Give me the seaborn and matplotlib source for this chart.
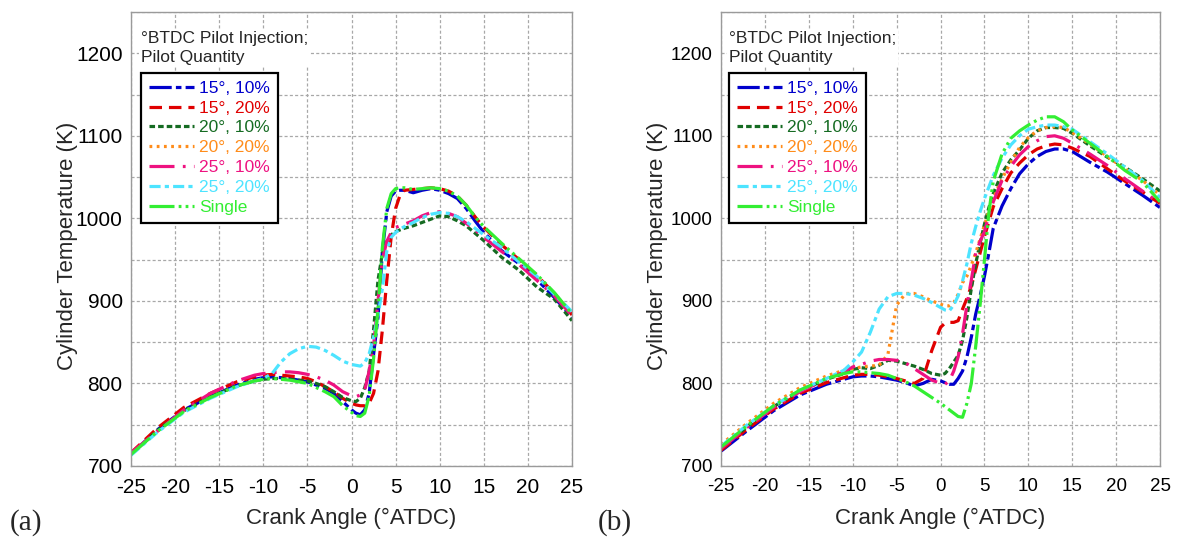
import matplotlib
matplotlib.use("Agg")
import matplotlib.pyplot as plt
from matplotlib.lines import Line2D
from matplotlib.ticker import MultipleLocator
import seaborn as sns
import pandas as pd

# ---------------- data ----------------
X = [-25, -22, -19, -16, -13, -11, -10, -9, -8, -7, -6, -5, -4, -3, -2, -1,
     0, 0.5, 1, 1.5, 2, 2.5, 3, 3.5, 4, 4.5, 5, 5.5, 6,
     7, 8, 9, 10, 11, 12, 13, 14, 15,
     17, 19, 21, 23, 25]

SERIES = ["15°, 10%", "15°, 20%", "20°, 10%", "20°, 20%", "25°, 10%", "25°, 20%", "Single"]

# panel (a)
A_15_10 = [714, 744, 768, 784, 798, 805, 807, 808, 807, 806, 804, 802, 798, 794, 788, 778,
           768, 764, 762, 768, 788, 835, 880, 960, 1008, 1027, 1033, 1034, 1034,
           1031, 1034, 1036, 1034, 1030, 1024, 1012, 997, 983,
           961, 945, 926, 904, 880]
A_15_20 = [716, 746, 771, 788, 802, 808, 810, 811, 810, 809, 808, 806, 802, 796, 790, 782,
           776, 774, 773, 773, 776, 788, 815, 865, 925, 978, 1012, 1028, 1034,
           1035, 1036, 1037, 1036, 1033, 1027, 1016, 1002, 989,
           968, 950, 931, 909, 883]
A_20_10 = [714, 743, 767, 784, 797, 803, 805, 806, 806, 805, 804, 803, 800, 796, 790, 783,
           779, 778, 782, 795, 815, 865, 925, 958, 972, 980, 984, 986, 988,
           991, 995, 999, 1003, 1002, 997, 991, 982, 973,
           953, 937, 917, 902, 876]
A_20_20 = None  # not visible in panel (a)
A_25_10 = [716, 742, 768, 788, 803, 810, 812, 813, 814, 814, 813, 811, 808, 804, 798, 790,
           785, 784, 786, 792, 815, 845, 900, 950, 972, 983, 989, 991, 993,
           997, 1003, 1007, 1008, 1006, 1002, 994, 986, 977,
           960, 944, 925, 906, 882]
A_25_20 = [713, 741, 765, 782, 796, 803, 806, 812, 826, 836, 842, 845, 844, 840, 834, 827,
           823, 822, 821, 825, 836, 856, 882, 915, 960, 977, 983, 987, 990,
           995, 1001, 1005, 1007, 1006, 1002, 996, 988, 980,
           965, 947, 930, 908, 887]
A_SINGLE = [714, 742, 766, 783, 797, 803, 805, 806, 805, 804, 802, 800, 795, 790, 784, 773,
            765, 761, 760, 764, 785, 830, 890, 965, 1012, 1030, 1036, 1037, 1037,
            1035, 1036, 1037, 1036, 1033, 1027, 1016, 1002, 990,
            970, 951, 932, 910, 884]

# panel (b)
B_15_10 = [718, 743, 767, 786, 799, 805, 808, 809, 809, 808, 806, 804, 801, 797, 800, 805,
           803, 801, 799, 799, 806, 815, 832, 856, 884, 906, 930, 958, 988,
           1015, 1036, 1054, 1066, 1075, 1081, 1084, 1084, 1081,
           1068, 1056, 1042, 1028, 1013]
B_15_20 = [719, 745, 769, 788, 801, 807, 810, 811, 811, 810, 808, 806, 803, 800, 806, 840,
           868, 873, 874, 874, 876, 890, 903, 918, 938, 958, 978, 996, 1014,
           1036, 1055, 1067, 1077, 1084, 1088, 1090, 1089, 1085,
           1075, 1060, 1045, 1032, 1018]
B_20_10 = [722, 748, 772, 791, 805, 812, 817, 819, 818, 822, 828, 827, 824, 821, 817, 812,
           810, 812, 818, 826, 834, 852, 880, 915, 945, 970, 993, 1013, 1030,
           1055, 1071, 1083, 1097, 1106, 1110, 1110, 1109, 1103,
           1088, 1074, 1062, 1048, 1033]
B_20_20 = [726, 752, 776, 795, 809, 816, 818, 820, 821, 822, 835, 895, 909, 909, 905, 900,
           896, 894, 894, 898, 908, 922, 930, 943, 958, 975, 992, 1008, 1024,
           1048, 1068, 1086, 1098, 1106, 1110, 1111, 1110, 1104,
           1090, 1075, 1060, 1046, 1028]
B_25_10 = [721, 747, 771, 790, 805, 814, 820, 823, 827, 829, 829, 828, 825, 818, 811, 804,
           800, 799, 803, 815, 832, 860, 895, 925, 958, 972, 984, 1004, 1020,
           1046, 1063, 1077, 1087, 1094, 1099, 1100, 1097, 1091,
           1078, 1064, 1048, 1033, 1018]
B_25_20 = [724, 750, 773, 792, 806, 816, 826, 838, 862, 890, 905, 909, 909, 907, 903, 898,
           892, 889, 888, 895, 906, 924, 945, 970, 990, 1008, 1024, 1038, 1052,
           1073, 1089, 1100, 1108, 1111, 1113, 1113, 1111, 1108,
           1093, 1078, 1062, 1046, 1025]
B_SINGLE = [723, 749, 773, 792, 806, 812, 814, 814, 813, 812, 810, 806, 802, 797, 790, 783,
            776, 772, 768, 764, 760, 759, 776, 800, 845, 895, 950, 1007, 1045,
            1078, 1097, 1106, 1113, 1119, 1123, 1123, 1117, 1107,
            1091, 1075, 1058, 1044, 1020]

PANEL_A = [A_15_10, A_15_20, A_20_10, A_20_20, A_25_10, A_25_20, A_SINGLE]
PANEL_B = [B_15_10, B_15_20, B_20_10, B_20_20, B_25_10, B_25_20, B_SINGLE]

# ---------------- styles ----------------
COLORS = ["#0000CC", "#E00000", "#156B22", "#FF8C1A", "#EE1280", "#4DE4FF", "#33EE33"]
DASHES = [(16, 3, 4, 3), (9, 5), (4, 2.2), (2, 3.2), (18, 6, 2, 6), (8, 3, 3, 3),
          (18, 3, 2, 3, 2, 3)]
LW = 2.3

sns.set_style("white")
plt.rcParams["font.family"] = ["Liberation Sans", "DejaVu Sans"]
plt.rcParams["lines.scale_dashes"] = False
plt.rcParams["axes.unicode_minus"] = False

fig = plt.figure(figsize=(11.78, 5.44), dpi=100)
axA = fig.add_axes([0.1112, 0.1434, 0.3744, 0.8346])
axB = fig.add_axes([0.6121, 0.1434, 0.3727, 0.8346])

palette = dict(zip(SERIES, COLORS))
dash_map = dict(zip(SERIES, DASHES))


def draw(ax, panel, tick_fs, leg_x, lab_x):
    rows = []
    for name, vals in zip(SERIES, panel):
        if vals is None:
            continue
        for xv, yv in zip(X, vals):
            rows.append({"angle": xv, "T": yv, "case": name})
    df = pd.DataFrame(rows)
    present = [s for s, v in zip(SERIES, panel) if v is not None]
    sns.lineplot(data=df, x="angle", y="T", hue="case", style="case",
                 hue_order=present, style_order=present,
                 palette=palette, dashes=dash_map, linewidth=LW,
                 estimator=None, legend=False, ax=ax)

    ax.set_xlim(-25, 25)
    ax.set_ylim(700, 1250)
    ax.xaxis.set_major_locator(MultipleLocator(5))
    ax.yaxis.set_major_locator(MultipleLocator(100))
    ax.yaxis.set_minor_locator(MultipleLocator(50))
    ax.set_yticks([700, 800, 900, 1000, 1100, 1200])
    ax.grid(True, which="both", color="#a8a8a8", linestyle=(0, (2.2, 1.6)), linewidth=0.9)
    ax.set_axisbelow(True)
    for sp in ax.spines.values():
        sp.set_color("#9a9a9a")
        sp.set_linewidth(1.0)
    ax.tick_params(which="both", direction="in", color="#9a9a9a", length=3,
                   labelsize=tick_fs, labelcolor="black", pad=6)
    ax.tick_params(axis="x", pad=9)
    ax.set_xlabel("Crank Angle (°ATDC)", fontsize=16)
    ax.set_ylabel("Cylinder Temperature (K)", fontsize=16)
    ax.xaxis.set_label_coords(0.5, -0.093)
    ax.yaxis.set_label_coords(lab_x, 0.485)

    ax.text(leg_x, 0.958, "°BTDC Pilot Injection;\nPilot Quantity", transform=ax.transAxes,
            ha="left", va="top", fontsize=12.5, linespacing=1.33, zorder=5,
            bbox=dict(facecolor="white", edgecolor="none", pad=1.5))

    handles = [Line2D([], [], color=c, linewidth=LW, dashes=d) for c, d in zip(COLORS, DASHES)]
    leg = ax.legend(handles, SERIES, loc="upper left", bbox_to_anchor=(leg_x, 0.866),
                    borderaxespad=0, fontsize=12.5, labelcolor="linecolor",
                    handlelength=2.6, handletextpad=0.3, labelspacing=0.27,
                    borderpad=0.45, fancybox=False, framealpha=1, edgecolor="black")
    leg.get_frame().set_linewidth(1.6)
    leg.set_zorder(6)


draw(axA, PANEL_A, 15, 0.0227, -0.12)
draw(axB, PANEL_B, 13.5, 0.018, -0.12)

fig.text(10 / 1178, 1 - 523 / 544, "(a)", fontsize=21, family="Liberation Serif",
         ha="left", va="center")
fig.text(598 / 1178, 1 - 523 / 544, "(b)", fontsize=21, family="Liberation Serif",
         ha="left", va="center")

fig.savefig("out.png", dpi=100)
